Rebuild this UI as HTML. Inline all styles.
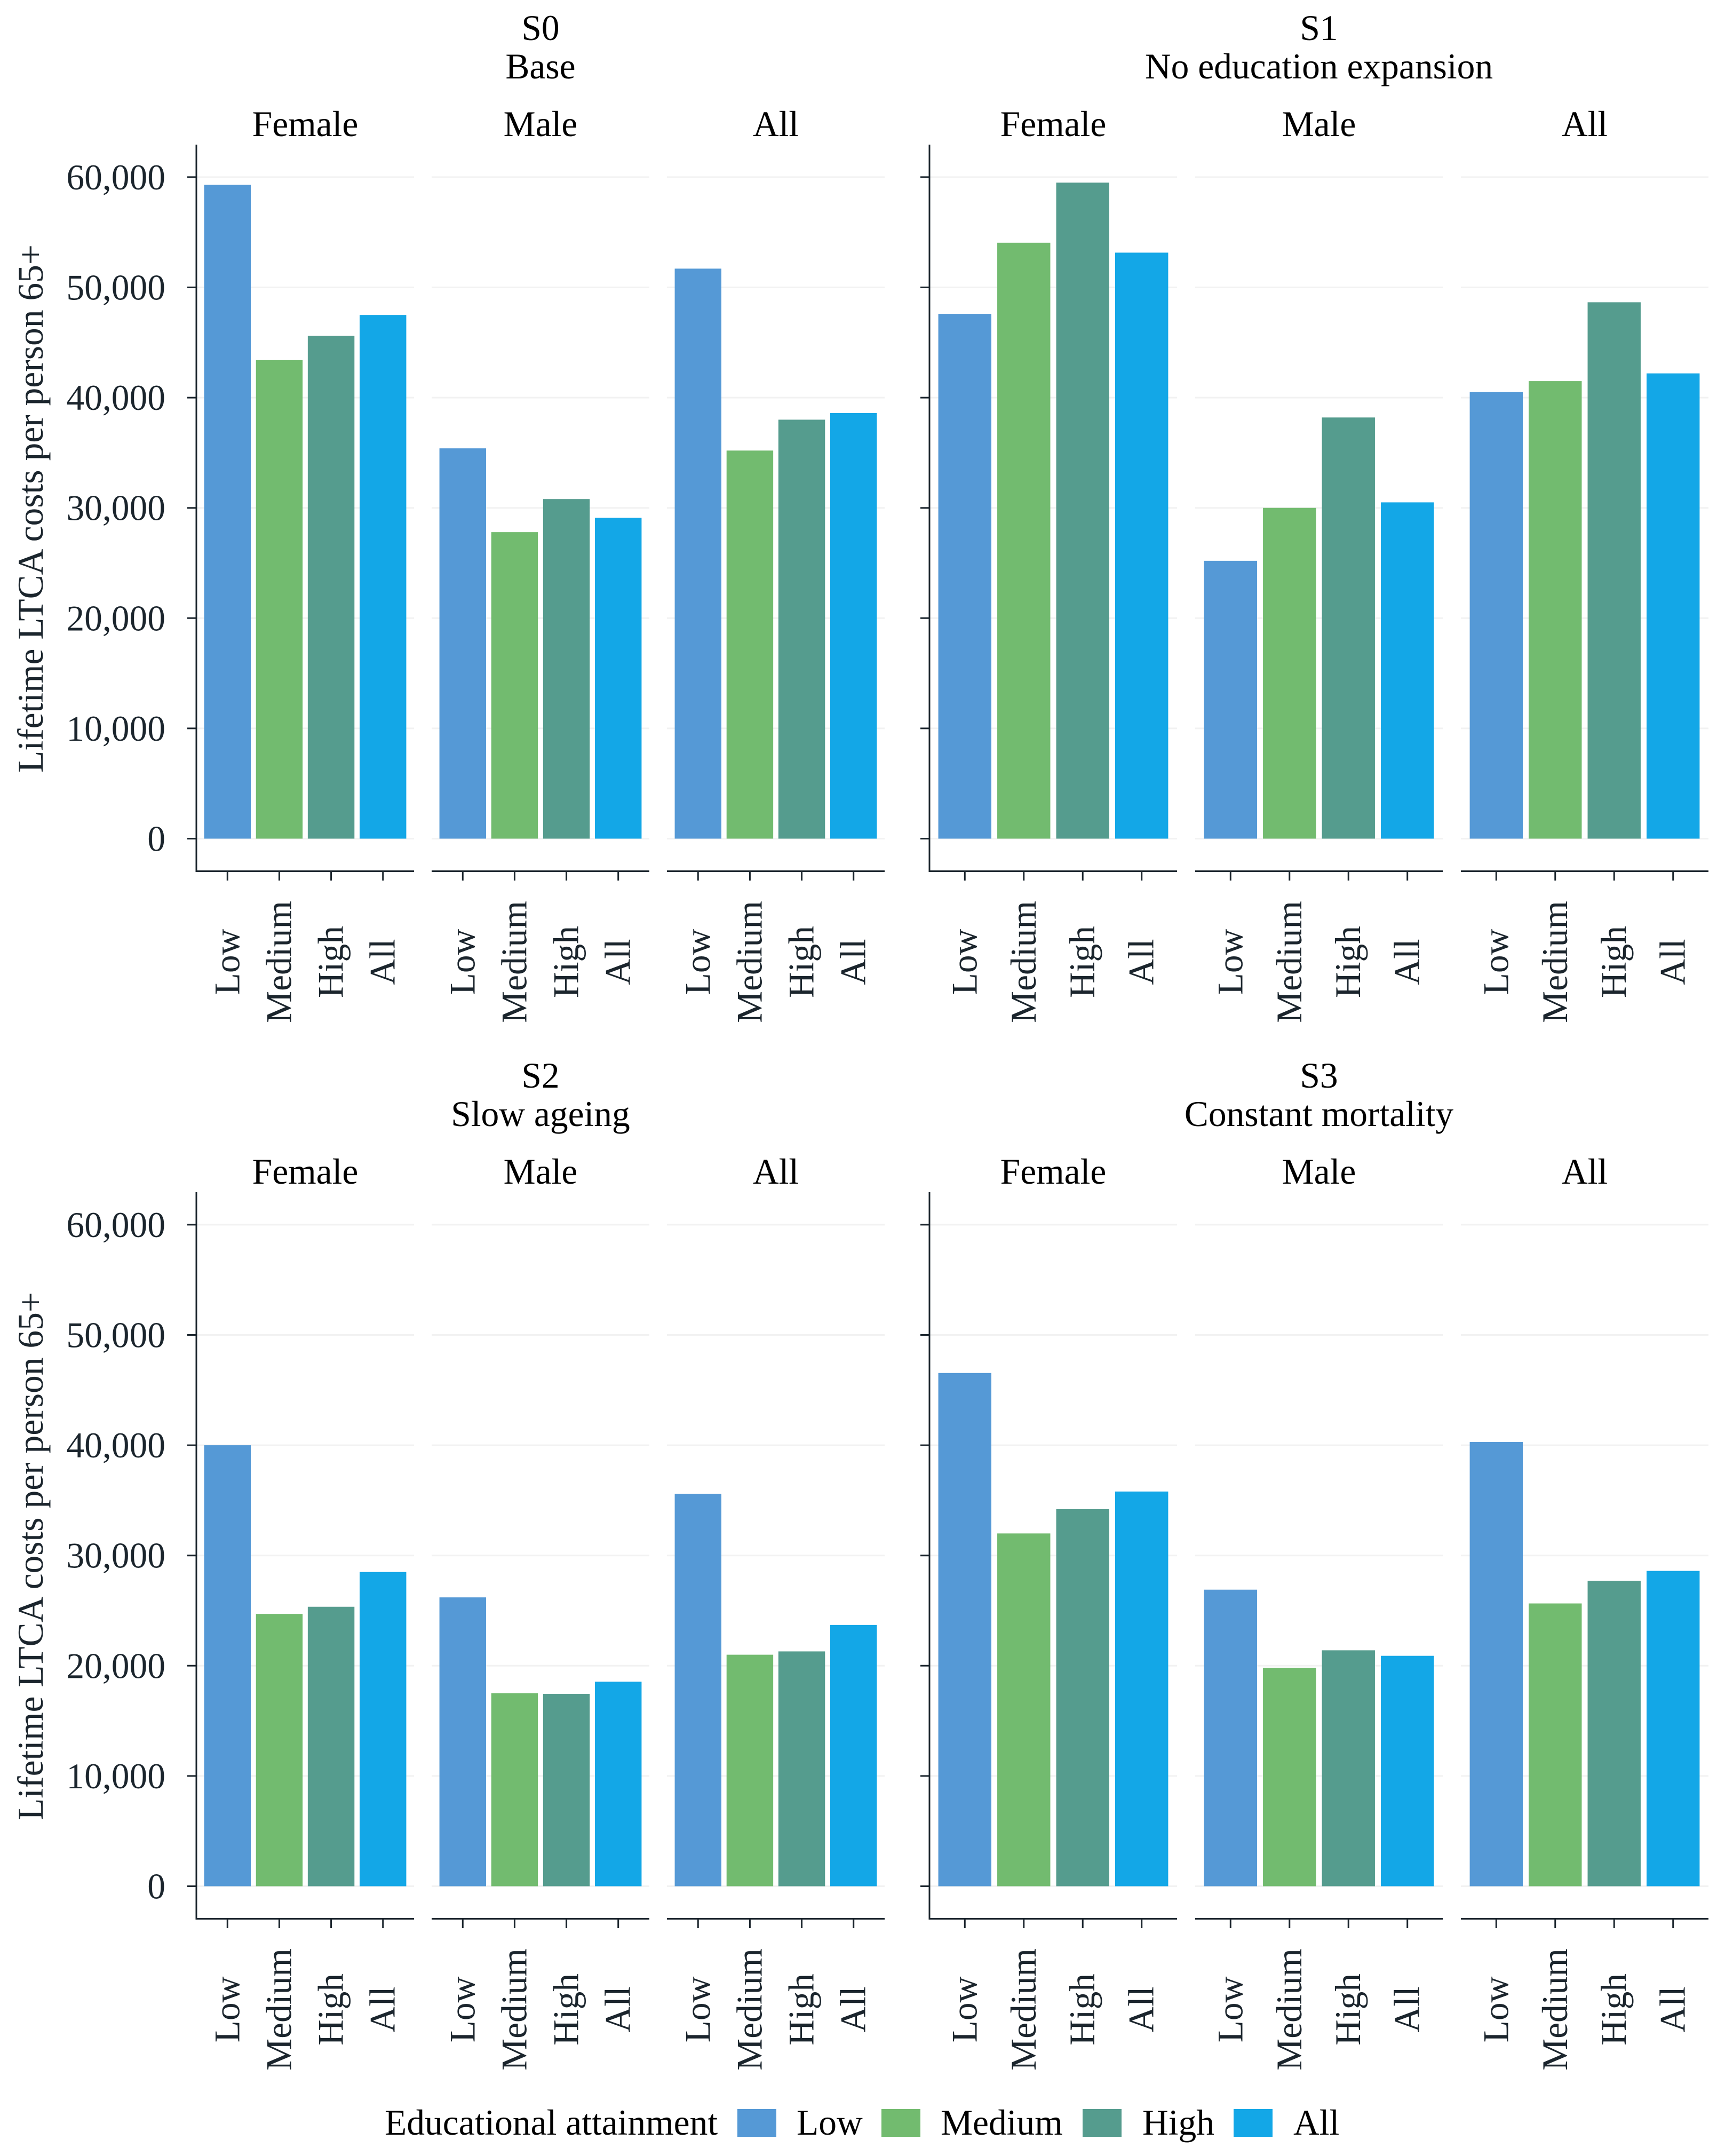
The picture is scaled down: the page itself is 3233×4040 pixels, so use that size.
<!DOCTYPE html>
<html lang="en">
<head>
<meta charset="utf-8">
<title>Lifetime LTCA costs per person 65+</title>
<style>
html,body{margin:0;padding:0;background:#fff;width:3233px;height:4040px;overflow:hidden}
svg{display:block}
text{font-family:"Liberation Serif",serif;font-size:67.5px}
</style>
</head>
<body>
<svg id="chart" xmlns="http://www.w3.org/2000/svg" width="3233" height="4040" viewBox="0 0 3233 4040"></svg>
<script>
const categories = ['Low', 'Medium', 'High', 'All'];
const sexes = ['Female', 'Male', 'All'];
const scenarioIds = ['S0', 'S1', 'S2', 'S3'];
const scenarioNames = ['Base', 'No education expansion', 'Slow ageing', 'Constant mortality'];
const yTicks = [0, 10000, 20000, 30000, 40000, 50000, 60000];
const yTickLabels = ['0', '10,000', '20,000', '30,000', '40,000', '50,000', '60,000'];
const yAxisTitle = 'Lifetime LTCA costs per person 65+';
const legendTitle = 'Educational attainment';

const s0Female = [59300, 43400, 45600, 47500];
const s0Male = [35400, 27800, 30800, 29100];
const s0All = [51700, 35200, 38000, 38600];
const s1Female = [47600, 54050, 59500, 53150];
const s1Male = [25200, 30000, 38200, 30500];
const s1All = [40500, 41500, 48650, 42200];
const s2Female = [40000, 24700, 25350, 28500];
const s2Male = [26200, 17500, 17450, 18550];
const s2All = [35600, 21000, 21300, 23700];
const s3Female = [46550, 32000, 34200, 35800];
const s3Male = [26900, 19800, 21400, 20900];
const s3All = [40300, 25650, 27700, 28600];
const scenarioValues = [
  [s0Female, s0Male, s0All],
  [s1Female, s1Male, s1All],
  [s2Female, s2Male, s2All],
  [s3Female, s3Male, s3All]
];

const colors = ['#5599d6', '#72bb6f', '#559c8e', '#13a7e7'];
const inkColor = '#1b252d';
const gridColor = '#f2f2f2';
const rowOffset = 1963;
const svg = document.getElementById('chart');

function yScale(v, row) {
  return 1571.5 - v / 10000 * 206.6 + row * rowOffset;
}
function groupLeft(col) { return col === 0 ? 368 : 1742; }
function panelWidth(col) { return col === 0 ? 408 : 464; }
function panelGap(col) { return col === 0 ? 33 : 34; }
function panelLeft(col, p) { return groupLeft(col) + p * (panelWidth(col) + panelGap(col)); }
function pitch(col) { return panelWidth(col) / 4.2; }
function xCenter(col, p, i) { return panelLeft(col, p) + (i + 0.6) * pitch(col); }

function mk(tag, attrs, parent, content) {
  const el = document.createElementNS('http://www.w3.org/2000/svg', tag);
  for (const k in attrs) el.setAttribute(k, attrs[k]);
  if (content !== undefined) el.textContent = content;
  parent.appendChild(el);
  return el;
}
function slug(s) { return s.toLowerCase().replace(/[^a-z0-9]+/g, '-'); }

scenarioIds.forEach((sid, sIdx) => {
  const col = sIdx % 2;
  const row = Math.floor(sIdx / 2);
  const dy = row * rowOffset;
  const g = mk('g', {}, svg);
  
  
  const left = groupLeft(col);
  const gw = 3 * panelWidth(col) + 2 * panelGap(col);
  const titleId = mk('text', {x: left + gw / 2, y: 75 + dy, 'text-anchor': 'middle', fill: '#000'}, g, sid);
  
  
  const titleName = mk('text', {x: left + gw / 2, y: 147 + dy, 'text-anchor': 'middle', fill: '#000'}, g, scenarioNames[sIdx]);
  
  

  if (col === 0) {
    const cy = 953 + dy;
    const yt = mk('text', {x: 0, y: 0, 'text-anchor': 'middle', fill: inkColor, transform: 'translate(80,' + cy + ') rotate(-90)'}, g, yAxisTitle);
    
    
  }

  sexes.forEach((sex, p) => {
    const px = panelLeft(col, p);
    const pw = panelWidth(col);
    const panel = mk('g', {}, g);
    
    

    const strip = mk('text', {x: px + pw / 2, y: 255 + dy, 'text-anchor': 'middle', fill: '#000'}, panel, sex);
    
    

    yTicks.forEach((t) => {
      const gl = mk('line', {x1: px, x2: px + pw, y1: yScale(t, row), y2: yScale(t, row), stroke: gridColor, 'stroke-width': 3}, panel);
      
      
    });

    scenarioValues[sIdx][p].forEach((v, i) => {
      const bw = pitch(col) * 0.9;
      const top = yScale(v, row);
      const bar = mk('rect', {x: xCenter(col, p, i) - bw / 2, y: top, width: bw, height: yScale(0, row) - top, fill: colors[i]}, panel);
      
      
    });

    const xAxis = mk('line', {x1: px, x2: px + pw, y1: 1632.5 + dy, y2: 1632.5 + dy, stroke: inkColor, 'stroke-width': 3}, panel);
    
    

    categories.forEach((c, i) => {
      const cx = xCenter(col, p, i);
      const tick = mk('line', {x1: cx, x2: cx, y1: 1632.5 + dy, y2: 1650 + dy, stroke: inkColor, 'stroke-width': 3}, panel);
      
      
      const lab = mk('text', {x: 0, y: 0, 'text-anchor': 'middle', fill: inkColor, transform: 'translate(' + (cx + 22) + ',' + (1802.5 + dy) + ') rotate(-90)'}, panel, c);
      
      
    });
  });

  const yAxis = mk('line', {x1: left, x2: left, y1: 271 + dy, y2: 1634 + dy, stroke: inkColor, 'stroke-width': 3}, g);
  
  

  yTicks.forEach((t, i) => {
    const ty = yScale(t, row);
    const tick = mk('line', {x1: left - 17, x2: left, y1: ty, y2: ty, stroke: inkColor, 'stroke-width': 3}, g);
    
    
    if (col === 0) {
      const lab = mk('text', {x: left - 58, y: ty + 23, 'text-anchor': 'end', fill: inkColor}, g, yTickLabels[i]);
      
      
    }
  });
});

const legend = mk('g', {}, svg);


const lt = mk('text', {x: 721, y: 4000, fill: '#000'}, legend, legendTitle);


const legendSwatchX = [1382, 1652, 2029, 2312];
const legendTextX = [1493, 1763, 2141, 2424];
categories.forEach((c, i) => {
  const sw = mk('rect', {x: legendSwatchX[i], y: 3952, width: 73, height: 52, fill: colors[i]}, legend);
  
  
  const tx = mk('text', {x: legendTextX[i], y: 4000, fill: '#000'}, legend, c);
  
  
});
</script>
</body>
</html>
